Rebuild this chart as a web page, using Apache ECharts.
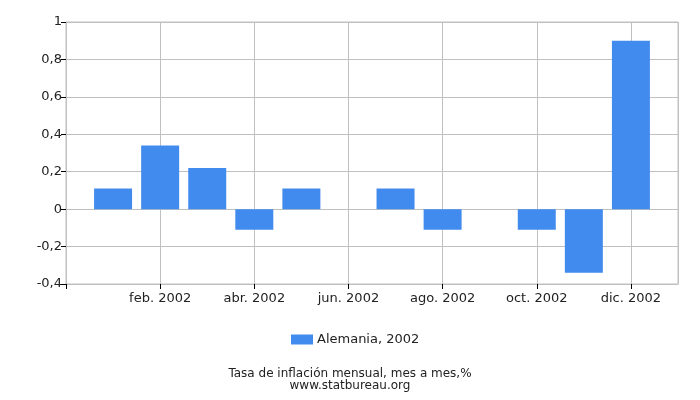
<!DOCTYPE html>
<html><head><meta charset="utf-8">
<script src="https://cdn.jsdelivr.net/npm/echarts@6/dist/echarts.min.js"></script>
<style>html,body{margin:0;padding:0;background:#fff}#c{width:700px;height:400px}</style>
</head><body><div id="c"></div>
<script>
const monthPositions = [1,2,3,4,5,6,7,8,9,10,11,12];
const monthLabels = {2:'feb. 2002',4:'abr. 2002',6:'jun. 2002',8:'ago. 2002',10:'oct. 2002',12:'dic. 2002'};
const values = [0.11, 0.34, 0.22, -0.11, 0.11, 0, 0.11, -0.11, 0, -0.11, -0.34, 0.9];
const seriesName = 'Alemania, 2002';
const titleText = 'Tasa de inflación mensual, mes a mes,%';
const subText = 'www.statbureau.org';

const chart = echarts.init(document.getElementById('c'), null, {renderer:'canvas'});
const font = 'DejaVu Sans';
chart.setOption({
  animation:false,
  textStyle:{fontFamily:font},
  grid:{left:66,right:22,top:22,bottom:116,show:true,borderColor:'#c0c0c0',borderWidth:1},
  xAxis:{type:'value',min:0,max:13,interval:2,
    axisLine:{show:true,onZero:false,lineStyle:{color:'#c0c0c0'}},
    axisTick:{show:true,length:5,lineStyle:{color:'#000'}},
    axisLabel:{color:'#222',fontSize:13,fontFamily:font,margin:8,showMaxLabel:false,
      formatter:v=>monthLabels[v]||''},
    splitLine:{show:true,lineStyle:{color:'#c0c0c0'}}},
  yAxis:{type:'value',min:-0.4,max:1,interval:0.2,
    axisLine:{show:true,onZero:false,lineStyle:{color:'#c0c0c0'}},
    axisTick:{show:true,length:5,lineStyle:{color:'#000'}},
    axisLabel:{color:'#222',fontSize:13,fontFamily:font,margin:4,
      formatter:v=>String(Math.round(v*10)/10).replace('.',',')},
    splitLine:{show:true,lineStyle:{color:'#c0c0c0'}}},
  legend:{top:333,left:291,padding:0,itemWidth:22,itemHeight:10,itemGap:10,
    textStyle:{color:'#222',fontSize:13,fontFamily:font,padding:[0,0,0,-1]},
    data:[{name:seriesName,icon:'rect'}]},
  title:{text:titleText,subtext:subText,left:'center',top:363,itemGap:0,
    textStyle:{color:'#222',fontSize:12,fontWeight:'normal',fontFamily:font,lineHeight:12},
    subtextStyle:{color:'#222',fontSize:12,fontFamily:font,lineHeight:12}},
  series:[{name:seriesName,type:'bar',barWidth:38,
    itemStyle:{color:'#428bee'},
    data:monthPositions.map((m,i)=>[m,values[i]])}]
});
</script></body></html>
